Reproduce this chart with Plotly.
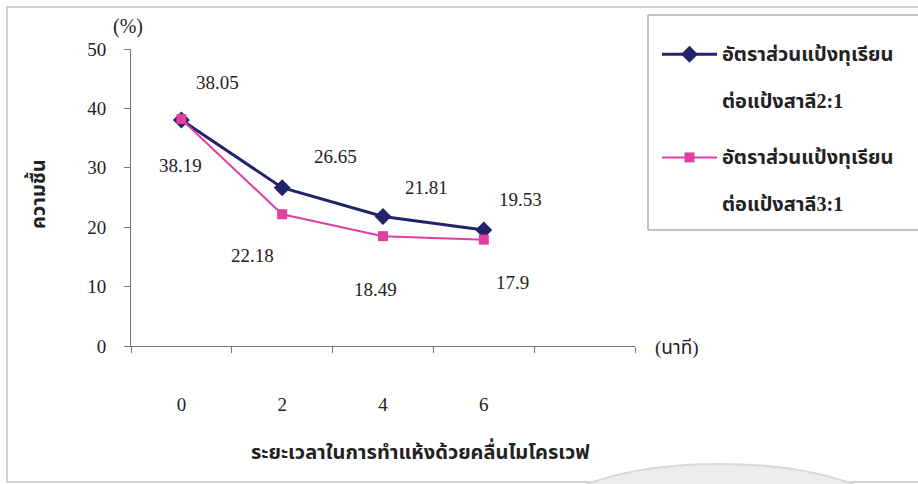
import plotly.graph_objects as go

# Drying time (minutes) and moisture content (%)
minutes = [0, 2, 4, 6]
tick_text = ["0", "2", "4", "6"]
moisture_2to1 = [38.05, 26.65, 21.81, 19.53]
moisture_3to1 = [38.19, 22.18, 18.49, 17.9]

name_2to1 = ("อัตราส่วนแป้งทุเรียน", "ต่อแป้งสาลี2:1")
name_3to1 = ("อัตราส่วนแป้งทุเรียน", "ต่อแป้งสาลี3:1")

W, H = 918, 484
L, R, T, B = 131, 635, 49, 346  # plot area in pixels


def px(x):
    return (x - L) / (R - L)


def py(y):
    return (B - y) / (B - T)


SERIF = "Times New Roman, Liberation Serif, serif"
THAI = "Liberation Serif, Noto Sans Thai, Garuda, Loma, serif"
NAVY = "#23236b"
PINK = "#e23ea2"
INK = "#222222"


def legend_name(lines):
    return "<br><br>".join(
        f'<span style="font-size:20px">{s}</span>' for s in lines
    )


fig = go.Figure()
fig.add_trace(go.Scatter(
    x=minutes, y=moisture_2to1, mode="lines+markers",
    name=legend_name(name_2to1), legendgroup="a",
    line=dict(color=NAVY, width=3),
    marker=dict(symbol="diamond", size=13, color=NAVY),
))
fig.add_trace(go.Scatter(
    x=minutes, y=moisture_3to1, mode="lines+markers",
    name=legend_name(name_3to1), legendgroup="b",
    line=dict(color=PINK, width=2),
    marker=dict(symbol="square", size=10, color=PINK),
))

# value labels next to each point
offs_2to1 = [(36, 37), (53, 31), (43, 29), (37, 30)]
offs_3to1 = [(-1, -46), (-30, -41), (-8, -53), (29, -43)]
annotations = []
for xs, ys, offs in ((minutes, moisture_2to1, offs_2to1),
                     (minutes, moisture_3to1, offs_3to1)):
    for xv, yv, (dx, dy) in zip(xs, ys, offs):
        annotations.append(dict(
            x=xv, y=yv, xref="x", yref="y", text=f"{yv:g}",
            showarrow=False, xshift=dx, yshift=dy,
            xanchor="center", yanchor="middle",
            font=dict(family=SERIF, size=19, color=INK),
        ))


def paper_text(x, y, text, family, size, anchor="center", angle=0):
    return dict(x=px(x), y=py(y), xref="paper", yref="paper", text=text,
                xanchor=anchor, yanchor="middle", textangle=angle,
                showarrow=False,
                font=dict(family=family, size=size, color=INK))


annotations += [
    paper_text(128, 26, "(%)", SERIF, 20),
    paper_text(653, 348, "(นาที)", THAI, 19, anchor="left"),
    paper_text(420, 450, "<b>ระยะเวลาในการทำแห้งด้วยคลื่นไมโครเวฟ</b>",
               THAI, 20),
    paper_text(36, 194, "<b>ความชื้น</b>", THAI, 20, angle=-90),
]

shapes = [
    # outer frame
    dict(type="rect", xref="paper", yref="paper",
         x0=px(7), x1=px(930), y0=py(482), y1=py(7),
         line=dict(color="#c4c4c4", width=1.5), layer="below"),
    # legend box
    dict(type="rect", xref="paper", yref="paper",
         x0=px(648), x1=px(930), y0=py(230), y1=py(15),
         line=dict(color="#8a8a8a", width=1), layer="below"),
    # pale arc at the foot of the page
    dict(type="circle", xref="paper", yref="paper",
         x0=px(545), x1=px(895), y0=py(580), y1=py(464),
         fillcolor="#ededed", line=dict(color="#d9d9d9", width=2),
         layer="below"),
]

fig.update_layout(
    width=W, height=H,
    margin=dict(l=L, r=W - R, t=T, b=H - B),
    paper_bgcolor="white", plot_bgcolor="white",
    showlegend=True,
    legend=dict(
        x=px(657), y=py(36), xanchor="left", yanchor="top",
        xref="paper", yref="paper",
        bgcolor="rgba(0,0,0,0)", borderwidth=0,
        font=dict(family=THAI, size=18, color=INK, weight="bold"),
        valign="top", tracegroupgap=30, itemwidth=55,
    ),
    xaxis=dict(
        range=[-1, 9], tickvals=minutes, ticktext=tick_text,
        ticks="", showgrid=False, zeroline=False,
        showline=True, linecolor="#777777", linewidth=1,
        ticklabelstandoff=41,
        tickfont=dict(family=SERIF, size=19, color=INK),
        minor=dict(tick0=1, dtick=2, ticks="outside", ticklen=6,
                   tickcolor="#777777", showgrid=False),
    ),
    yaxis=dict(
        range=[0, 50], dtick=10, ticks="outside", ticklen=6,
        tickcolor="#777777", showgrid=False, zeroline=False,
        showline=True, linecolor="#777777", linewidth=1,
        ticklabelstandoff=14,
        tickfont=dict(family=SERIF, size=19, color=INK),
    ),
    annotations=annotations,
    shapes=shapes,
)

fig.write_html("out.html")
